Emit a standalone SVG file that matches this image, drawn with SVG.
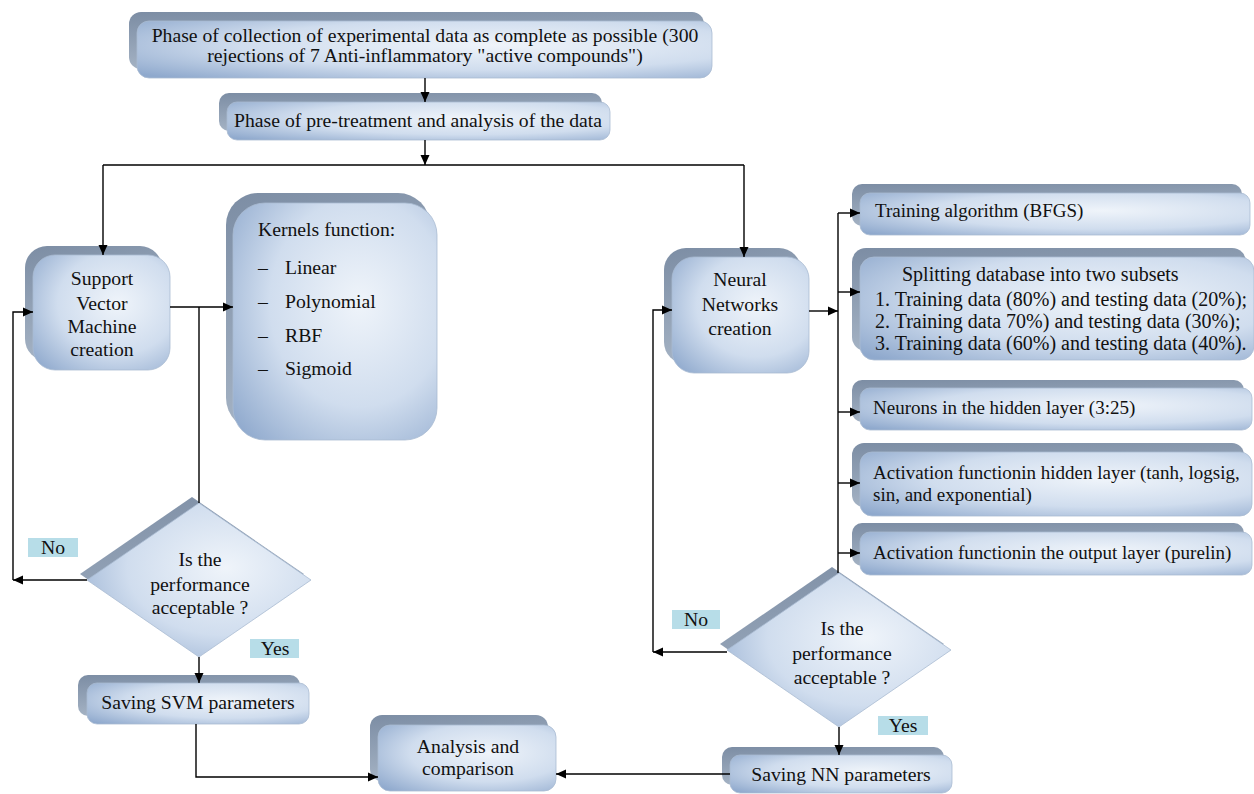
<svg xmlns="http://www.w3.org/2000/svg" width="1254" height="794" viewBox="0 0 1254 794" font-family="'Liberation Serif', 'Times New Roman', serif">
<defs>
<style>
.sh{fill:url(#gsh);}
.fr{fill:url(#gfr);stroke:#a9bbd2;stroke-width:0.8;}
.t{font-family:'Liberation Serif','Times New Roman',serif;font-size:19.7px;fill:#111;}
.r{font-size:19px;}
.c{text-anchor:middle;}
.lbl{fill:#b7dde8;}
.cn{fill:none;stroke:#000;stroke-width:1.4;}
</style>
<linearGradient id="gsh" x1="0" y1="0" x2="0.3" y2="1">
<stop offset="0" stop-color="#7c8da4"/>
<stop offset="1" stop-color="#a7b5c6"/>
</linearGradient>
<radialGradient id="gfr" cx="0.62" cy="0.42" r="0.8">
<stop offset="0" stop-color="#eff4fa"/>
<stop offset="0.55" stop-color="#d0ddee"/>
<stop offset="1" stop-color="#8fa9cd"/>
</radialGradient>
<marker id="ah" viewBox="0 0 10 10" refX="10" refY="5" markerWidth="10" markerHeight="10" markerUnits="userSpaceOnUse" orient="auto">
<path d="M0,0.5 L10,5 L0,9.5 z" fill="#000"/>
</marker>
</defs>
<rect width="1254" height="794" fill="#fff"/>

<g id="n-collect">
<rect class="sh" x="129" y="12" width="575" height="57" rx="12"/>
<rect class="fr" x="137" y="21" width="575" height="57" rx="12"/>
<text class="t c" x="425" y="42">Phase of collection of experimental data as complete as possible (300</text>
<text class="t c" x="425" y="62">rejections of 7 Anti-inflammatory "active compounds")</text>
</g>

<g id="n-pretreat">
<rect class="sh" x="219" y="93" width="383" height="38" rx="10"/>
<rect class="fr" x="227" y="102" width="383" height="38" rx="10"/>
<text class="t c" x="418" y="127">Phase of pre-treatment and analysis of the data</text>
</g>

<g id="n-svm">
<rect class="sh" x="25" y="246" width="137" height="115" rx="22"/>
<rect class="fr" x="33" y="255" width="137" height="115" rx="22"/>
<text class="t c" x="102" y="285">Support</text>
<text class="t c" x="102" y="310">Vector</text>
<text class="t c" x="102" y="333">Machine</text>
<text class="t c" x="102" y="356">creation</text>
</g>

<g id="n-kernels">
<rect class="sh" x="226" y="193" width="204" height="237" rx="32"/>
<rect class="fr" x="233" y="203" width="204" height="237" rx="32"/>
<text class="t" x="258" y="236">Kernels function:</text>
<text class="t" x="258" y="274">–</text><text class="t" x="285" y="274">Linear</text>
<text class="t" x="258" y="308">–</text><text class="t" x="285" y="308">Polynomial</text>
<text class="t" x="258" y="342">–</text><text class="t" x="285" y="342">RBF</text>
<text class="t" x="258" y="375">–</text><text class="t" x="285" y="375">Sigmoid</text>
</g>

<g id="n-nn">
<rect class="sh" x="664" y="248" width="137" height="116" rx="22"/>
<rect class="fr" x="672" y="257" width="137" height="116" rx="22"/>
<text class="t c" x="740" y="286">Neural</text>
<text class="t c" x="740" y="311">Networks</text>
<text class="t c" x="740" y="335">creation</text>
</g>

<g id="n-training">
<rect class="sh" x="852" y="184" width="390" height="42" rx="10"/>
<rect class="fr" x="860" y="193" width="390" height="42" rx="10"/>
<text class="t r" x="875" y="217">Training algorithm (BFGS)</text>
</g>

<g id="n-split">
<rect class="sh" x="852" y="248" width="394" height="103" rx="14"/>
<rect class="fr" x="860" y="257" width="394" height="103" rx="14"/>
<text class="t" x="902" y="281" style="font-size:20px">Splitting database into two subsets</text>
<text class="t" x="875" y="306" style="font-size:20px">1. Training data (80%) and testing data (20%);</text>
<text class="t" x="875" y="328" style="font-size:20px">2. Training data 70%) and testing data (30%);</text>
<text class="t" x="875" y="350" style="font-size:20px">3. Training data (60%) and testing data (40%).</text>
</g>

<g id="n-neurons">
<rect class="sh" x="852" y="380" width="392" height="42" rx="10"/>
<rect class="fr" x="860" y="388" width="392" height="42" rx="10"/>
<text class="t r" x="873" y="414">Neurons in the hidden layer (3:25)</text>
</g>

<g id="n-acthidden">
<rect class="sh" x="852" y="443" width="392" height="64" rx="12"/>
<rect class="fr" x="860" y="452" width="392" height="64" rx="12"/>
<text class="t r" x="873" y="479">Activation functionin hidden layer (tanh, logsig,</text>
<text class="t r" x="873" y="501">sin, and exponential)</text>
</g>

<g id="n-actout">
<rect class="sh" x="852" y="523" width="392" height="43" rx="10"/>
<rect class="fr" x="860" y="532" width="392" height="43" rx="10"/>
<text class="t r" x="873" y="559">Activation functionin the output layer (purelin)</text>
</g>

<g id="n-svmdecision">
<polygon class="sh" points="199,503 311,580 199,657 87,580" transform="translate(-7,-6)"/>
<polygon class="fr" points="199,503 311,580 199,657 87,580"/>
<text class="t c" x="200" y="566">Is the</text>
<text class="t c" x="200" y="591">performance</text>
<text class="t c" x="200" y="614">acceptable ?</text>
</g>

<g id="n-nndecision">
<polygon class="sh" points="839,573 951,650 839,727 727,650" transform="translate(-7,-6)"/>
<polygon class="fr" points="839,573 951,650 839,727 727,650"/>
<text class="t c" x="842" y="635">Is the</text>
<text class="t c" x="842" y="660">performance</text>
<text class="t c" x="842" y="684">acceptable ?</text>
</g>

<g id="lbl-svm-no">
<rect class="lbl" x="28" y="538" width="50" height="19"/>
<text class="t c" x="53" y="554">No</text>
</g>
<g id="lbl-svm-yes">
<rect class="lbl" x="250" y="639" width="49" height="19"/>
<text class="t c" x="275" y="655">Yes</text>
</g>
<g id="lbl-nn-no">
<rect class="lbl" x="672" y="610" width="48" height="19"/>
<text class="t c" x="696" y="626">No</text>
</g>
<g id="lbl-nn-yes">
<rect class="lbl" x="878" y="716" width="50" height="19"/>
<text class="t c" x="903" y="732">Yes</text>
</g>

<g id="n-savesvm">
<rect class="sh" x="78" y="675" width="222" height="41" rx="10"/>
<rect class="fr" x="87" y="683" width="222" height="41" rx="10"/>
<text class="t c" x="198" y="709">Saving SVM parameters</text>
</g>

<g id="n-analysis">
<rect class="sh" x="370" y="715" width="178" height="66" rx="12"/>
<rect class="fr" x="378" y="725" width="178" height="66" rx="12"/>
<text class="t c" x="468" y="753">Analysis and</text>
<text class="t c" x="468" y="775">comparison</text>
</g>

<g id="n-savenn">
<rect class="sh" x="722" y="747" width="222" height="38" rx="10"/>
<rect class="fr" x="730" y="755" width="222" height="38" rx="10"/>
<text class="t c" x="841" y="781">Saving NN parameters</text>
</g>

<g id="connectors">
<path class="cn" marker-end="url(#ah)" d="M425,78 V102"/>
<path class="cn" marker-end="url(#ah)" d="M425,140 V165"/>
<path class="cn" d="M103,165 H744"/>
<path class="cn" marker-end="url(#ah)" d="M103,165 V255"/>
<path class="cn" marker-end="url(#ah)" d="M744,165 V257"/>
<path class="cn" marker-end="url(#ah)" d="M170,307 H233"/>
<path class="cn" d="M199,307 V503"/>
<path class="cn" marker-end="url(#ah)" d="M87,580 H13"/>
<path class="cn" marker-end="url(#ah)" d="M13,580 V312 H33"/>
<path class="cn" marker-end="url(#ah)" d="M199,657 V683"/>
<path class="cn" marker-end="url(#ah)" d="M196,724 V777 H378"/>
<path class="cn" marker-end="url(#ah)" d="M809,311 H838"/>
<path class="cn" d="M838,213 V573"/>
<path class="cn" marker-end="url(#ah)" d="M838,213 H860"/>
<path class="cn" marker-end="url(#ah)" d="M838,292 H860"/>
<path class="cn" marker-end="url(#ah)" d="M838,412 H860"/>
<path class="cn" marker-end="url(#ah)" d="M838,483 H860"/>
<path class="cn" marker-end="url(#ah)" d="M838,553 H860"/>
<path class="cn" marker-end="url(#ah)" d="M727,652 H653"/>
<path class="cn" marker-end="url(#ah)" d="M653,652 V310 H672"/>
<path class="cn" marker-end="url(#ah)" d="M839,727 V755"/>
<path class="cn" marker-end="url(#ah)" d="M730,774 H556"/>
</g>
</svg>
